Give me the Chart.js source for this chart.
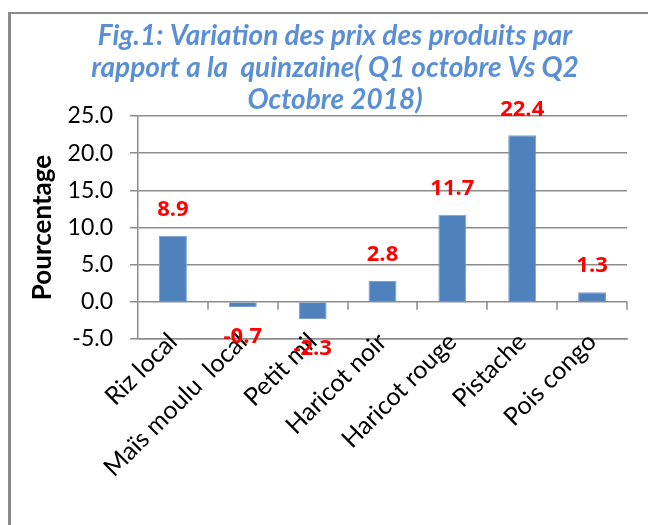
<!DOCTYPE html>
<html>
<head>
<meta charset="utf-8">
<script src="https://cdn.jsdelivr.net/npm/chart.js@4.4.1/dist/chart.umd.min.js"></script>
<style>
  html, body { margin: 0; padding: 0; background: #fff; }
  #frame {
    position: absolute; left: 8px; top: 12px; width: 700px; height: 600px;
    border-top: 2px solid #8a8a8a; border-left: 3px solid #8a8a8a;
  }
  #chart { position: absolute; left: 0; top: 0; }
</style>
</head>
<body>
<div id="frame"></div>
<canvas id="chart" width="648" height="525"></canvas>
<script>
// data
const produits = ['Riz local', 'Maïs moulu  local', 'Petit mil', 'Haricot noir', 'Haricot rouge', 'Pistache', 'Pois congo'];
const variations = [8.9, -0.7, -2.3, 2.8, 11.7, 22.4, 1.3];
const titre = [
    'Fig.1: Variation des prix des produits par',
    'rapport a la  quinzaine( Q1 octobre Vs Q2',
    'Octobre 2018)'
];
const axeY = 'Pourcentage';

const FONT = 'Lato, "Open Sans", sans-serif';
const GRID = '#8c8c8c';

// red value labels at the end of each bar
const valueLabels = {
    id: 'valueLabels',
    afterDatasetsDraw(chart) {
        const ctx = chart.ctx;
        const meta = chart.getDatasetMeta(0);
        ctx.save();
        ctx.font = 'bold 22px "Open Sans", Lato, sans-serif';
        ctx.fillStyle = '#ff0000';
        ctx.textAlign = 'center';
        ctx.textBaseline = 'middle';
        meta.data.forEach(function (bar, i) {
            let v = variations[i];
            let y = v >= 0 ? bar.y - 26 : bar.y + 30;
            ctx.fillText(v.toFixed(1), bar.x, y);
        });
        ctx.restore();
    }
};

// small category tick marks hanging below the zero line
const zeroTicks = {
    id: 'zeroTicks',
    afterDraw(chart) {
        const ctx = chart.ctx;
        const x = chart.scales.x, y = chart.scales.y;
        const y0 = y.getPixelForValue(0);
        ctx.save();
        ctx.strokeStyle = GRID;
        ctx.lineWidth = 1.5;
        ctx.beginPath();
        for (let i = 0; i < produits.length; i++) {
            let px = Math.round(x.getPixelForValue(i + 0.5));
            ctx.moveTo(px, y0);
            ctx.lineTo(px, y0 + 8);
        }
        ctx.stroke();
        ctx.restore();
    }
};

new Chart(document.getElementById('chart'), {
    type: 'bar',
    data: {
        labels: produits,
        datasets: [{
            data: variations,
            backgroundColor: '#4f81bd',
            borderColor: '#7aa0d0',
            borderWidth: 1,
            categoryPercentage: 1,
            barPercentage: 0.4
        }]
    },
    options: {
        responsive: false,
        animation: false,
        layout: { padding: { left: 43, right: 21, top: 0, bottom: 0 } },
        plugins: {
            legend: { display: false },
            tooltip: { enabled: false },
            title: {
                display: true,
                text: titre,
                color: '#5b8fd5',
                font: { family: FONT, size: 28, weight: 'bold', style: 'italic', lineHeight: 1.143 },
                padding: { top: 20, bottom: 0 }
            }
        },
        scales: {
            x: {
                grid: { display: false, drawTicks: false },
                border: { display: true, color: GRID, width: 1.5 },
                ticks: {
                    color: '#000',
                    font: { family: FONT, size: 25 },
                    minRotation: 45,
                    maxRotation: 45,
                    padding: -12,
                    autoSkip: false
                },
                afterFit(scale) {
                    scale.height = 186;
                    // labels sit over the axis line like in the original, so don't clip them
                    scale._computeLabelArea = function () { return undefined; };
                }
            },
            y: {
                min: -5,
                max: 25,
                ticks: {
                    stepSize: 5,
                    color: '#000',
                    font: { family: FONT, size: 23 },
                    padding: 17,
                    callback: function (v) { return Number(v).toFixed(1); }
                },
                grid: { color: GRID, lineWidth: 1.5, tickLength: 8 },
                border: { color: GRID, width: 1.5 },
                title: {
                    display: true,
                    text: axeY,
                    color: '#000',
                    font: { family: FONT, size: 26, weight: 'bold' },
                    padding: { top: -16, bottom: 0 }
                },
                afterFit(scale) { scale.width = 95; }
            }
        }
    },
    plugins: [valueLabels, zeroTicks]
});
</script>
</body>
</html>
